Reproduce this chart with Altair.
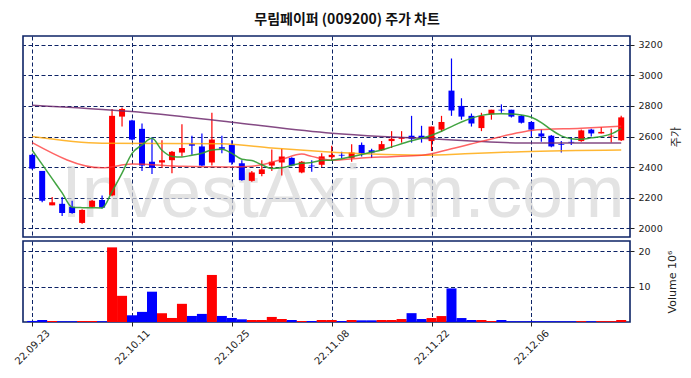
import altair as alt
import pandas as pd

# ---------------- data ----------------
dates = ["22.09.23", "22.09.26", "22.09.27", "22.09.28", "22.09.29", "22.09.30",
         "22.10.04", "22.10.05", "22.10.06", "22.10.07", "22.10.11", "22.10.12",
         "22.10.13", "22.10.14", "22.10.17", "22.10.18", "22.10.19", "22.10.20",
         "22.10.21", "22.10.24", "22.10.25", "22.10.26", "22.10.27", "22.10.28",
         "22.10.31", "22.11.01", "22.11.02", "22.11.03", "22.11.04", "22.11.07",
         "22.11.08", "22.11.09", "22.11.10", "22.11.11", "22.11.14", "22.11.15",
         "22.11.16", "22.11.17", "22.11.18", "22.11.21", "22.11.22", "22.11.23",
         "22.11.24", "22.11.25", "22.11.28", "22.11.29", "22.11.30", "22.12.01",
         "22.12.02", "22.12.05", "22.12.06", "22.12.07", "22.12.08", "22.12.09",
         "22.12.12", "22.12.13", "22.12.14", "22.12.15", "22.12.16", "22.12.19"]

opens = [2480, 2375, 2150, 2160, 2140, 2035, 2140, 2185, 2215, 2730,
         2705, 2650, 2435, 2430, 2445, 2495, 2550, 2535, 2430, 2530,
         2545, 2425, 2310, 2355, 2410, 2430, 2460, 2365, 2410, 2415,
         2465, 2480, 2460, 2545, 2510, 2510, 2570, 2585, 2605, 2605,
         2570, 2645, 2900, 2800, 2735, 2655, 2745, 2775, 2775, 2735,
         2695, 2620, 2605, 2550, 2565, 2570, 2645, 2620, 2600, 2575]
closes = [2390, 2180, 2170, 2100, 2100, 2120, 2180, 2135, 2735, 2780,
          2580, 2410, 2395, 2445, 2500, 2525, 2540, 2410, 2580, 2520,
          2430, 2315, 2365, 2385, 2435, 2470, 2410, 2435, 2405, 2470,
          2480, 2475, 2495, 2490, 2495, 2550, 2585, 2595, 2585, 2590,
          2665, 2695, 2770, 2730, 2685, 2735, 2775, 2770, 2730, 2690,
          2645, 2600, 2535, 2545, 2560, 2640, 2620, 2630, 2605, 2725]
highs = [2485, 2375, 2205, 2205, 2180, 2125, 2185, 2215, 2780, 2790,
         2710, 2685, 2595, 2575, 2505, 2680, 2605, 2620, 2755, 2605,
         2575, 2445, 2375, 2445, 2515, 2520, 2465, 2440, 2445, 2490,
         2540, 2500, 2550, 2560, 2520, 2570, 2635, 2635, 2735, 2670,
         2665, 2735, 3110, 2850, 2750, 2755, 2775, 2810, 2775, 2740,
         2700, 2645, 2610, 2570, 2595, 2645, 2650, 2660, 2650, 2735]
lows = [2385, 2170, 2150, 2080, 2095, 2030, 2135, 2130, 2210, 2665,
        2575, 2375, 2355, 2395, 2360, 2470, 2480, 2405, 2410, 2490,
        2415, 2310, 2305, 2340, 2375, 2345, 2405, 2360, 2370, 2400,
        2445, 2460, 2435, 2470, 2460, 2505, 2525, 2560, 2560, 2560,
        2505, 2630, 2735, 2710, 2665, 2635, 2710, 2755, 2725, 2685,
        2600, 2565, 2530, 2495, 2545, 2565, 2600, 2620, 2560, 2570]
volumes = [0.30, 0.57, 0.29, 0.20, 0.20, 0.29, 0.29, 0.20, 21.1, 7.4,
           1.90, 2.86, 8.57, 2.48, 1.14, 5.14, 1.71, 2.29, 13.3, 1.71,
           1.14, 0.76, 0.57, 0.57, 1.43, 0.86, 0.57, 0.29, 0.29, 0.57,
           0.57, 0.29, 0.56, 0.47, 0.47, 0.56, 0.56, 0.84, 2.50, 0.84,
           1.12, 1.68, 9.50, 1.12, 0.56, 0.56, 0.28, 0.56, 0.20, 0.20,
           0.20, 0.20, 0.20, 0.20, 0.20, 0.25, 0.20, 0.25, 0.25, 0.56]

# moving-average lines
ma5_idx = list(range(60))
ma5_val = [2510, 2418, 2325, 2231, 2138, 2135, 2134, 2133, 2240, 2360,
           2490, 2545, 2588, 2510, 2470, 2466, 2478, 2491, 2512, 2517,
           2490, 2451, 2443, 2415, 2390, 2395, 2412, 2425, 2430, 2443,
           2445, 2455, 2468, 2482, 2497, 2512, 2532, 2552, 2572, 2588,
           2608, 2634, 2665, 2695, 2720, 2738, 2747, 2748, 2747, 2740,
           2726, 2691, 2643, 2604, 2586, 2582, 2591, 2600, 2617, 2652]
ma20_idx = [0, 7, 10, 15, 20, 22, 23, 25, 27, 28, 30, 33, 36, 39, 42, 45, 48, 50, 55, 59]
ma20_val = [2560, 2395, 2420, 2405, 2400, 2405, 2415, 2450, 2485, 2470,
            2445, 2460, 2468, 2477, 2520, 2568, 2615, 2640, 2654, 2667]
ma60_idx = [0, 7, 19, 24, 29, 34, 39, 44, 49, 59]
ma60_val = [2600, 2556, 2552, 2525, 2502, 2485, 2478, 2489, 2501, 2512]
ma120_idx = [0, 10, 20, 30, 35, 39, 44, 49, 59]
ma120_val = [2805, 2763, 2693, 2621, 2600, 2588, 2570, 2558, 2557]

price_ticks = [2000, 2200, 2400, 2600, 2800, 3000, 3200]
vol_ticks = [10, 20]
x_ticks = [0, 10, 20, 30, 40, 50]

# ---------------- style ----------------
NAVY = "#0d2366"
RED = "#ff0000"
BLUE = "#0000ff"
FONT = "DejaVu Sans"
X_DOMAIN = [-0.42, 59.38]
P_DOMAIN = [1943, 3257]
V_DOMAIN = [0, 22.9]

df = pd.DataFrame({"i": list(range(60)), "date": dates, "open": opens, "close": closes,
                   "high": highs, "low": lows, "vol": volumes})
df["dir"] = ["up" if c >= o else "down" for o, c in zip(opens, closes)]

color = alt.Color("dir:N", scale=alt.Scale(domain=["up", "down"], range=[RED, BLUE]), legend=None)

label_expr = "[" + ",".join("'%s'" % d for d in dates) + "][datum.value]"

grid_kw = dict(grid=True, gridColor=NAVY, gridDash=[4, 2.5], gridWidth=1, gridOpacity=1)

x_main_axis = alt.Axis(values=x_ticks, labels=False, ticks=False, domain=False, title=None, **grid_kw)
x_vol_axis = alt.Axis(values=x_ticks, labelExpr=label_expr, labelAngle=-45, labelAlign="center",
                      labelBaseline="middle", labelFontSize=10, tickSize=4, tickColor="#222",
                      domain=False, title=None, labelPadding=21, **grid_kw)
y_price_axis = alt.Axis(orient="right", values=price_ticks, format="d", title="주가", titleAngle=270,
                        titleBaseline="top", titleFont="Noto Sans CJK KR", titleFontSize=11,
                        titleFontWeight="normal", titleColor="#222", tickSize=4, tickColor="#222",
                        domain=False, labelPadding=4, titlePadding=8, **grid_kw)
y_vol_axis = alt.Axis(orient="right", values=vol_ticks, format="d", title="Volume  10⁶", titleAngle=270,
                      titleBaseline="top", titleFontSize=11, titleFontWeight="normal", titleColor="#222",
                      tickSize=4, tickColor="#222", domain=False, labelPadding=4, titlePadding=16,
                      **grid_kw)

xs = alt.Scale(domain=X_DOMAIN, nice=False, zero=False)
ps = alt.Scale(domain=P_DOMAIN, nice=False, zero=False)
vs = alt.Scale(domain=V_DOMAIN, nice=False, zero=False)

watermark = alt.Chart(pd.DataFrame({"t": ["InvestAxiom.com"]})).mark_text(
    font="Liberation Sans", fontSize=74, color="#d8d8d8", opacity=0.7, align="center",
    baseline="alphabetic"
).encode(text="t:N", x=alt.value(320), y=alt.value(181))

base = alt.Chart(df)
wicks = base.mark_rule(strokeWidth=1.2).encode(
    x=alt.X("i:Q", scale=xs, axis=x_main_axis),
    y=alt.Y("low:Q", scale=ps, axis=y_price_axis),
    y2="high:Q",
    color=color,
)
bodies = base.mark_bar(size=6).encode(
    x=alt.X("i:Q", scale=xs, axis=x_main_axis),
    y=alt.Y("open:Q", scale=ps, axis=y_price_axis),
    y2="close:Q",
    color=color,
)


def ma_line(idx, val, col, w=1.5, interp="monotone", op=1.0):
    d = pd.DataFrame({"i": idx, "v": val})
    return alt.Chart(d).mark_line(color=col, strokeWidth=w, interpolate=interp, opacity=op).encode(
        x=alt.X("i:Q", scale=xs, axis=x_main_axis),
        y=alt.Y("v:Q", scale=ps, axis=y_price_axis),
    )


l120 = ma_line(ma120_idx, ma120_val, "#6e2a6e", op=0.85)
l60 = ma_line(ma60_idx, ma60_val, "#ffa500", op=0.8)
l20 = ma_line(ma20_idx, ma20_val, "#ff3030", op=0.75)
l5 = ma_line(ma5_idx, ma5_val, "#2e9a2e", op=0.9)

main = alt.layer(watermark, wicks, bodies, l120, l60, l20, l5).properties(width=607, height=201)

vol = base.mark_bar(size=10).encode(
    x=alt.X("i:Q", scale=xs, axis=x_vol_axis),
    y=alt.Y("vol:Q", scale=vs, axis=y_vol_axis),
    color=color,
).properties(width=607, height=81)

chart = alt.vconcat(main, vol, spacing=2).properties(
    title=alt.TitleParams("무림페이퍼 (009200) 주가 차트", font="Noto Sans CJK KR", fontSize=14,
                          fontWeight="bold", color="#111", anchor="middle", offset=8),
    padding={"left": 12, "top": 13, "right": 0, "bottom": 0},
    background="white",
).configure_view(stroke=NAVY, strokeWidth=1.6).configure_axis(
    labelFont=FONT, labelFontSize=9.5, labelColor="#222", titleFont=FONT
)

chart.save("out.html", embed_options={"renderer": "svg", "actions": False})
